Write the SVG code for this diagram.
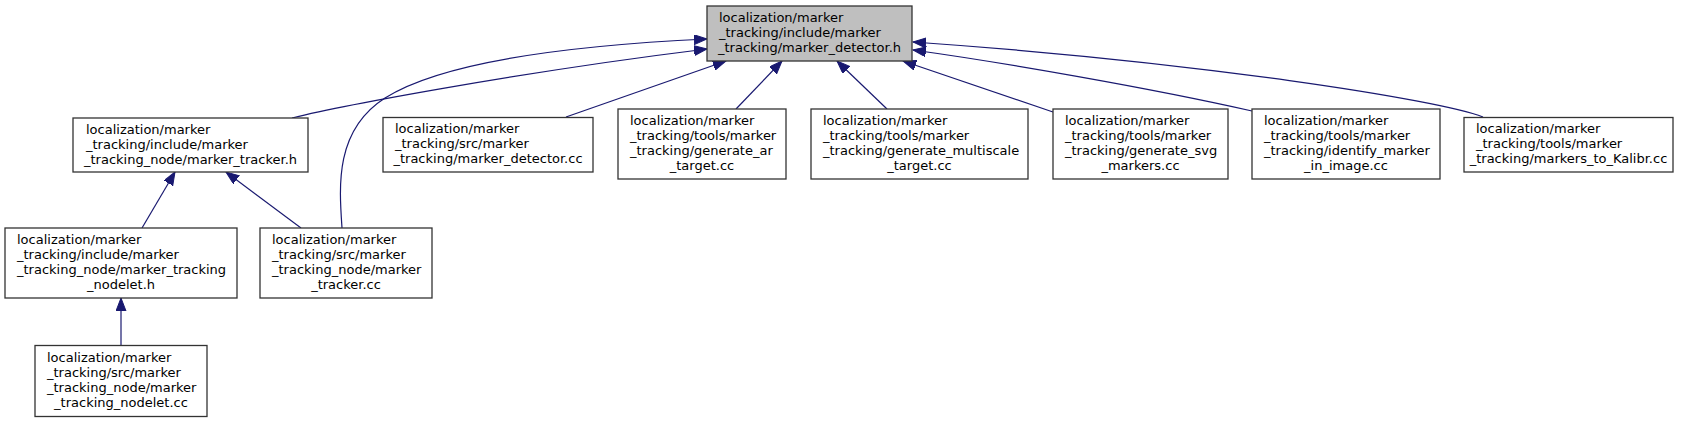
<svg xmlns="http://www.w3.org/2000/svg" width="1691" height="423" viewBox="0 0 1691 423">
<defs>
<style>
.box{fill:#ffffff;stroke:#333333;stroke-width:1.3}
.main{fill:#bfbfbf;stroke:#333333;stroke-width:1.3}
text{font-family:"DejaVu Sans","Liberation Sans",sans-serif;font-size:13px;fill:#000000}
.c{text-anchor:middle}
.edge{fill:none;stroke:#191970;stroke-width:1.2;marker-end:url(#ah)}
</style>
<marker id="ah" markerUnits="userSpaceOnUse" markerWidth="14" markerHeight="11" refX="13" refY="5" orient="auto">
<path d="M0,0 L13,5 L0,10 z" fill="#191970" stroke="#191970" stroke-width="1"/>
</marker>
</defs>
<rect width="1691" height="423" fill="#ffffff"/>
<g id="edges">
<path class="edge" d="M292,118 C340,106 520,72 707,49"/>
<path class="edge" d="M342,228 C339,185 335,130 385,98 C445,60 580,45 707,39"/>
<path class="edge" d="M566,117 L726,61"/>
<path class="edge" d="M736,109 L782,61"/>
<path class="edge" d="M887,109 L837,61"/>
<path class="edge" d="M1053,112 L903,61"/>
<path class="edge" d="M1252,111 C1150,88 1000,62 913,50"/>
<path class="edge" d="M1483,117 C1440,100 1200,62 913,42"/>
<path class="edge" d="M142,228 L175,172"/>
<path class="edge" d="M301,228 L226,172"/>
<path class="edge" d="M121,345 L121,298"/>
</g>
<g id="node_main">
<rect class="main" x="707" y="6" width="205" height="55"/>
<text x="719" y="22">localization/marker</text>
<text x="719" y="37">_tracking/include/marker</text>
<text x="809.5" y="52" class="c">_tracking/marker_detector.h</text>
</g>
<g id="node_marker_tracker_h">
<rect class="box" x="73" y="118" width="235" height="54"/>
<text x="86" y="133.5">localization/marker</text>
<text x="86" y="148.5">_tracking/include/marker</text>
<text x="190.5" y="163.5" class="c">_tracking_node/marker_tracker.h</text>
</g>
<g id="node_marker_detector_cc">
<rect class="box" x="383" y="117.5" width="210" height="54.5"/>
<text x="395" y="133">localization/marker</text>
<text x="395" y="148">_tracking/src/marker</text>
<text x="488" y="163" class="c">_tracking/marker_detector.cc</text>
</g>
<g id="node_generate_ar">
<rect class="box" x="618" y="109" width="168" height="70"/>
<text x="630" y="125">localization/marker</text>
<text x="630" y="140">_tracking/tools/marker</text>
<text x="630" y="155">_tracking/generate_ar</text>
<text x="702" y="170" class="c">_target.cc</text>
</g>
<g id="node_generate_multiscale">
<rect class="box" x="811" y="109" width="217" height="70"/>
<text x="823" y="125">localization/marker</text>
<text x="823" y="140">_tracking/tools/marker</text>
<text x="823" y="155">_tracking/generate_multiscale</text>
<text x="919.5" y="170" class="c">_target.cc</text>
</g>
<g id="node_generate_svg">
<rect class="box" x="1053" y="109" width="175" height="70"/>
<text x="1065" y="125">localization/marker</text>
<text x="1065" y="140">_tracking/tools/marker</text>
<text x="1065" y="155">_tracking/generate_svg</text>
<text x="1140.5" y="170" class="c">_markers.cc</text>
</g>
<g id="node_identify_marker">
<rect class="box" x="1252" y="109" width="188" height="70"/>
<text x="1264" y="125">localization/marker</text>
<text x="1264" y="140">_tracking/tools/marker</text>
<text x="1264" y="155">_tracking/identify_marker</text>
<text x="1346" y="170" class="c">_in_image.cc</text>
</g>
<g id="node_markers_to_kalibr">
<rect class="box" x="1464" y="117.5" width="209" height="54.5"/>
<text x="1476" y="133">localization/marker</text>
<text x="1476" y="148">_tracking/tools/marker</text>
<text x="1568.5" y="163" class="c">_tracking/markers_to_Kalibr.cc</text>
</g>
<g id="node_nodelet_h">
<rect class="box" x="5" y="228" width="232" height="70"/>
<text x="17" y="244">localization/marker</text>
<text x="17" y="259">_tracking/include/marker</text>
<text x="17" y="274">_tracking_node/marker_tracking</text>
<text x="121" y="289" class="c">_nodelet.h</text>
</g>
<g id="node_tracker_cc">
<rect class="box" x="260" y="228" width="172" height="70"/>
<text x="272" y="244">localization/marker</text>
<text x="272" y="259">_tracking/src/marker</text>
<text x="272" y="274">_tracking_node/marker</text>
<text x="346" y="289" class="c">_tracker.cc</text>
</g>
<g id="node_nodelet_cc">
<rect class="box" x="35" y="345.5" width="172" height="71"/>
<text x="47" y="362">localization/marker</text>
<text x="47" y="377">_tracking/src/marker</text>
<text x="47" y="392">_tracking_node/marker</text>
<text x="121" y="407" class="c">_tracking_nodelet.cc</text>
</g>
</svg>
